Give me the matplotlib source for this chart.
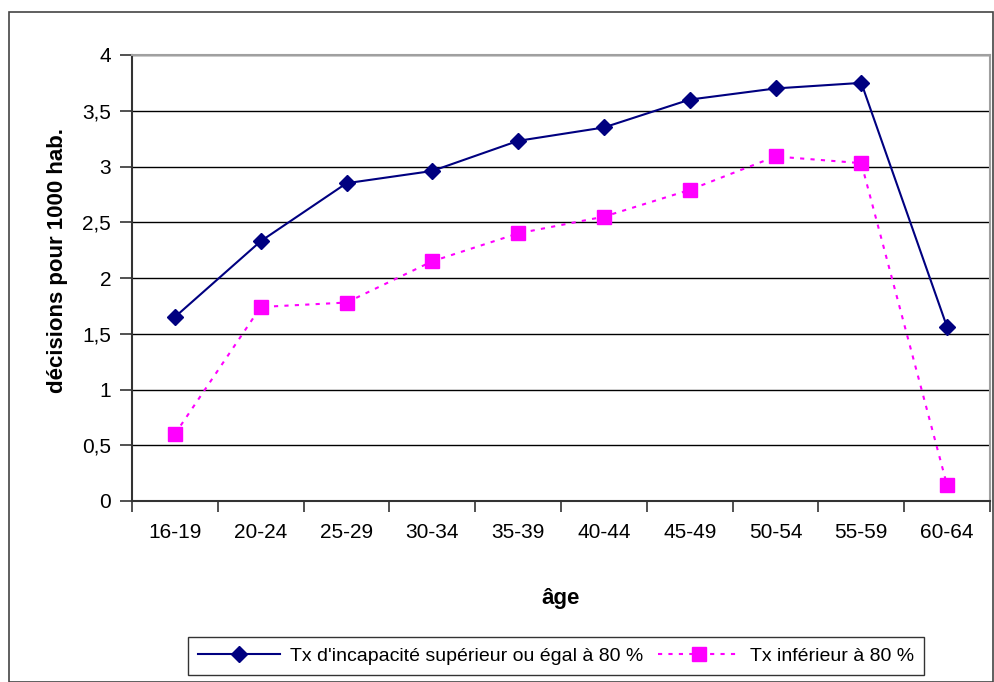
"""Taux de décisions pour 1000 hab. par âge, selon le taux d'incapacité."""
import matplotlib
matplotlib.use("Agg")
import matplotlib.pyplot as plt
import numpy as np
from matplotlib.patches import Rectangle
from matplotlib.lines import Line2D

plt.rcParams["font.family"] = ["Liberation Sans", "DejaVu Sans"]

AGES = ["16-19", "20-24", "25-29", "30-34", "35-39", "40-44", "45-49",
        "50-54", "55-59", "60-64"]
SUP80 = [1.65, 2.33, 2.85, 2.96, 3.23, 3.35, 3.60, 3.70, 3.75, 1.56]
INF80 = [0.60, 1.74, 1.78, 2.15, 2.40, 2.55, 2.79, 3.09, 3.03, 0.14]

NAVY = "#000080"
MAGENTA = "#FF00FF"

fig = plt.figure(figsize=(9.94, 6.82), dpi=100)
ax = fig.add_axes([132 / 994, 1 - 501 / 682, (990 - 132) / 994, (501 - 55) / 682])

x = np.arange(len(AGES))
ax.plot(x, SUP80, color=NAVY, lw=1.5, marker="D", ms=8, zorder=4)
ax.plot(x, INF80, color=MAGENTA, lw=1.5, ls=(0, (2, 3)), marker="s", ms=10,
        zorder=3)

ax.set_xlim(-0.5, len(AGES) - 0.5)
ax.set_ylim(0, 4)
yt = np.arange(0, 4.01, 0.5)
ax.set_yticks(yt)
ax.set_yticklabels([f"{v:g}".replace(".", ",") for v in yt])
ax.set_xticks(x)
ax.set_xticklabels(AGES)
ax.set_xticks(np.arange(-0.5, len(AGES), 1.0), minor=True)
ax.tick_params(axis="x", which="major", length=0, pad=16, labelsize=15)
ax.tick_params(axis="x", which="minor", length=8, width=1.2, color="#333333")
ax.tick_params(axis="y", length=9, width=1.2, pad=6, labelsize=15, color="#333333")
ax.yaxis.grid(True, color="black", lw=1.0)
ax.set_axisbelow(True)

for s in ("top", "right"):
    ax.spines[s].set_color("#a0a0a0")
    ax.spines[s].set_linewidth(1.5)
for s in ("left", "bottom"):
    ax.spines[s].set_color("#333333")
    ax.spines[s].set_linewidth(1.5)

ax.set_ylabel("décisions pour 1000 hab.", fontsize=16, fontweight="bold")
ax.yaxis.set_label_coords(-0.075, 0.54)
ax.set_xlabel("âge", fontsize=16, fontweight="bold")
ax.xaxis.set_label_coords(0.5, -0.195)

handles = [
    Line2D([], [], color=NAVY, lw=1.5, marker="D", ms=8),
    Line2D([], [], color=MAGENTA, lw=1.5, ls=(0, (2, 3)), marker="s", ms=10),
]
leg = fig.legend(handles, ["Tx d'incapacité supérieur ou égal à 80 %",
                           "Tx inférieur à 80 %"],
                 loc="center", bbox_to_anchor=(556 / 994, 1 - 656 / 682), ncol=2,
                 fontsize=14, frameon=True, fancybox=False, handlelength=4.2,
                 columnspacing=0.8, handletextpad=0.5, borderpad=0.5)
leg.get_frame().set_edgecolor("black")
leg.get_frame().set_linewidth(1.0)

fig.patches.append(Rectangle((9 / 994, 0), 1 - 9 / 994 - 0.001, 1 - 12 / 682,
                             transform=fig.transFigure, fill=False,
                             edgecolor="#444444", lw=1.2))

fig.savefig("out.png", dpi=100)
